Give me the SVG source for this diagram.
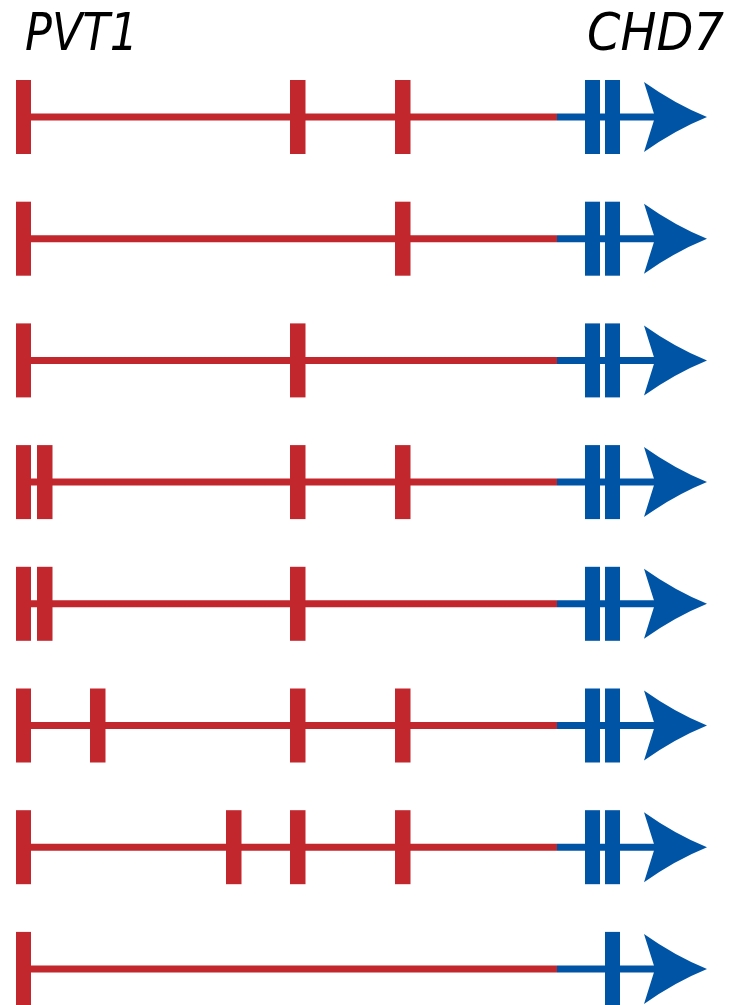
<svg xmlns="http://www.w3.org/2000/svg" width="740" height="1005" viewBox="0 0 740 1005">
<defs>
<style>
.lbl{font-family:"DejaVu Sans",sans-serif;font-style:italic;font-size:52px;fill:#000}
.r{fill:#C1272D}
.b{fill:#0054A6}
.rl{stroke:#C1272D;stroke-width:7}
.bl{stroke:#0054A6;stroke-width:7}
</style>
<g id="base">
<line class="rl" x1="30" y1="37" x2="557" y2="37"/>
<line class="bl" x1="557" y1="37" x2="657" y2="37"/>
<path class="b" d="M644,2 Q675,24 707,37 Q675,50 644,72 L655,37 Z"/>
<rect class="r" x="16" y="0" width="15" height="74"/>
</g>
<g id="chd">
<rect class="b" x="585" y="0" width="15" height="74"/>
<rect class="b" x="605" y="0" width="15" height="74"/>
</g>
<rect id="ex" class="r" x="0" y="0" width="15.5" height="74"/>
</defs>
<text class="lbl" x="25" y="50" textLength="113" lengthAdjust="spacingAndGlyphs">PVT1</text>
<text class="lbl" x="587" y="50" textLength="137" lengthAdjust="spacingAndGlyphs">CHD7</text>
<g id="connectors"></g>
<g id="row1" transform="translate(0,80)">
<use href="#base"/><use href="#chd"/>
<use href="#ex" x="290"/><use href="#ex" x="395"/>
</g>
<g id="row2" transform="translate(0,201.7)">
<use href="#base"/><use href="#chd"/>
<use href="#ex" x="395"/>
</g>
<g id="row3" transform="translate(0,323.4)">
<use href="#base"/><use href="#chd"/>
<use href="#ex" x="290"/>
</g>
<g id="row4" transform="translate(0,445.1)">
<use href="#base"/><use href="#chd"/>
<use href="#ex" x="37"/><use href="#ex" x="290"/><use href="#ex" x="395"/>
</g>
<g id="row5" transform="translate(0,566.8)">
<use href="#base"/><use href="#chd"/>
<use href="#ex" x="37"/><use href="#ex" x="290"/>
</g>
<g id="row6" transform="translate(0,688.5)">
<use href="#base"/><use href="#chd"/>
<use href="#ex" x="90"/><use href="#ex" x="290"/><use href="#ex" x="395"/>
</g>
<g id="row7" transform="translate(0,810.2)">
<use href="#base"/><use href="#chd"/>
<use href="#ex" x="226"/><use href="#ex" x="290"/><use href="#ex" x="395"/>
</g>
<g id="row8" transform="translate(0,931.9)">
<use href="#base"/>
<rect class="b" x="605" y="0" width="15" height="74"/>
</g>
</svg>
